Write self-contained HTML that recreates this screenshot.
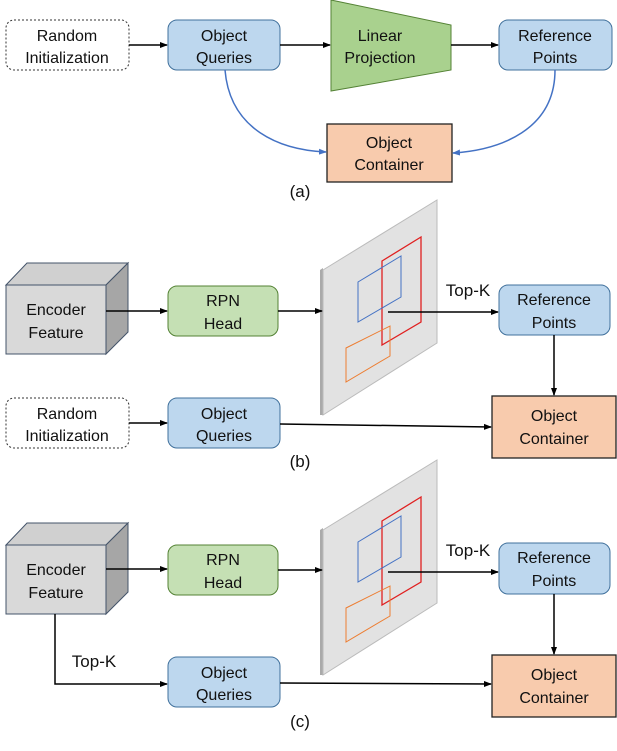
<!DOCTYPE html>
<html><head><style>body{margin:0;background:#fff}svg{display:block}text{font-family:"Liberation Sans",sans-serif;font-size:16px;fill:#111;text-anchor:middle}</style></head><body>
<svg width="617" height="751" viewBox="0 0 617 751" xmlns="http://www.w3.org/2000/svg">
<defs>
<marker id="a" markerWidth="8" markerHeight="8" refX="7" refY="4" orient="auto" markerUnits="userSpaceOnUse"><path d="M0,1 L8,4 L0,7Z" fill="#000"/></marker>
<marker id="ab" markerWidth="8" markerHeight="8" refX="7" refY="4" orient="auto" markerUnits="userSpaceOnUse"><path d="M0,1 L8,4 L0,7Z" fill="#4472c4"/></marker>
<g id="plate">
<polygon points="320,530 323,528 323,675 320,675" fill="#aaa"/>
<polygon points="323,530 437,460 437,603 323,675" fill="#e2e2e2" stroke="#bbb"/>
<polygon points="382,521 421,497 421,582 382,605" fill="none" stroke="#e02020" stroke-width="1.3"/>
<polygon points="358,542 401,516 401,557 358,582" fill="none" stroke="#4472c4" stroke-width="1"/>
<polygon points="346,608 390,586 390,616 346,642" fill="none" stroke="#ed7d31" stroke-width="1"/>
<line x1="388" y1="572" x2="498" y2="572" stroke="#000" stroke-width="1.5" marker-end="url(#a)"/>
<text x="468" y="556" style="font-size:17px">Top-K</text>
</g>
<g id="cube">
<polygon points="6,545 27,523 128,523 106,545" fill="#d0d0d0" stroke="#44546a"/>
<polygon points="106,545 128,523 128,592 106,614" fill="#a6a6a6" stroke="#44546a"/>
<rect x="6" y="545" width="100" height="69" fill="#d9d9d9" stroke="#44546a"/>
<text x="56" y="575">Encoder</text><text x="56" y="598">Feature</text>
</g>
</defs>
<!-- (a) -->
<rect x="6" y="20" width="123" height="50" rx="8" fill="#fff" stroke="#333" stroke-dasharray="2,2"/>
<text x="67" y="41">Random</text><text x="67" y="63">Initialization</text>
<rect x="168" y="20" width="112" height="50" rx="9" fill="#bdd7ee" stroke="#41719c"/>
<text x="224" y="41">Object</text><text x="224" y="63">Queries</text>
<polygon points="331,0 451,25 451,70 331,91" fill="#a9d18e" stroke="#548235"/>
<text x="380" y="41">Linear</text><text x="380" y="63">Projection</text>
<rect x="499" y="20" width="113" height="50" rx="9" fill="#bdd7ee" stroke="#41719c"/>
<text x="555" y="41">Reference</text><text x="555" y="63">Points</text>
<rect x="327" y="124" width="125" height="58" fill="#f8cbad" stroke="#222" stroke-width="1.3"/>
<text x="389" y="148">Object</text><text x="389" y="170">Container</text>
<line x1="129" y1="45" x2="167" y2="45" stroke="#000" stroke-width="1.5" marker-end="url(#a)"/>
<line x1="280" y1="45" x2="330" y2="45" stroke="#000" stroke-width="1.5" marker-end="url(#a)"/>
<line x1="451" y1="45" x2="498" y2="45" stroke="#000" stroke-width="1.5" marker-end="url(#a)"/>
<path d="M225,70 C230,130 280,150 326,152" fill="none" stroke="#4472c4" stroke-width="1.5" marker-end="url(#ab)"/>
<path d="M555,70 C555,130 500,150 453,153" fill="none" stroke="#4472c4" stroke-width="1.5" marker-end="url(#ab)"/>
<text x="300" y="197" style="font-size:17px">(a)</text>
<!-- (b) -->
<g transform="translate(0,-260)"><use href="#plate"/><use href="#cube"/></g>
<rect x="168" y="286" width="110" height="50" rx="9" fill="#c5e0b4" stroke="#548235"/>
<text x="223" y="306">RPN</text><text x="223" y="329">Head</text>
<line x1="106" y1="311" x2="167" y2="311" stroke="#000" stroke-width="1.5" marker-end="url(#a)"/>
<line x1="278" y1="311" x2="322" y2="311" stroke="#000" stroke-width="1.5" marker-end="url(#a)"/>
<rect x="499" y="285" width="111" height="50" rx="9" fill="#bdd7ee" stroke="#41719c"/>
<text x="554" y="305">Reference</text><text x="554" y="328">Points</text>
<rect x="492" y="396" width="124" height="62" fill="#f8cbad" stroke="#222" stroke-width="1.3"/>
<text x="554" y="421">Object</text><text x="554" y="444">Container</text>
<line x1="554" y1="335" x2="554" y2="395" stroke="#000" stroke-width="1.5" marker-end="url(#a)"/>
<rect x="6" y="398" width="123" height="50" rx="8" fill="#fff" stroke="#333" stroke-dasharray="2,2"/>
<text x="67" y="419">Random</text><text x="67" y="441">Initialization</text>
<rect x="168" y="398" width="112" height="50" rx="9" fill="#bdd7ee" stroke="#41719c"/>
<text x="224" y="419">Object</text><text x="224" y="441">Queries</text>
<line x1="129" y1="423" x2="167" y2="423" stroke="#000" stroke-width="1.5" marker-end="url(#a)"/>
<line x1="280" y1="424" x2="491" y2="427" stroke="#000" stroke-width="1.5" marker-end="url(#a)"/>
<text x="300" y="467" style="font-size:17px">(b)</text>
<!-- (c) -->
<use href="#plate"/><use href="#cube"/>
<rect x="168" y="545" width="110" height="50" rx="9" fill="#c5e0b4" stroke="#548235"/>
<text x="223" y="565">RPN</text><text x="223" y="588">Head</text>
<line x1="106" y1="569" x2="167" y2="569" stroke="#000" stroke-width="1.5" marker-end="url(#a)"/>
<line x1="278" y1="570" x2="322" y2="570" stroke="#000" stroke-width="1.5" marker-end="url(#a)"/>
<rect x="499" y="543" width="111" height="51" rx="9" fill="#bdd7ee" stroke="#41719c"/>
<text x="554" y="563">Reference</text><text x="554" y="586">Points</text>
<rect x="492" y="655" width="124" height="62" fill="#f8cbad" stroke="#222" stroke-width="1.3"/>
<text x="554" y="680">Object</text><text x="554" y="703">Container</text>
<line x1="554" y1="594" x2="554" y2="654" stroke="#000" stroke-width="1.5" marker-end="url(#a)"/>
<polyline points="55,614 55,684 167,684" fill="none" stroke="#000" stroke-width="1.5" marker-end="url(#a)"/>
<text x="94" y="667" style="font-size:17px">Top-K</text>
<rect x="168" y="657" width="112" height="50" rx="9" fill="#bdd7ee" stroke="#41719c"/>
<text x="224" y="678">Object</text><text x="224" y="700">Queries</text>
<line x1="280" y1="683" x2="491" y2="684" stroke="#000" stroke-width="1.5" marker-end="url(#a)"/>
<text x="300" y="727" style="font-size:17px">(c)</text>
</svg>
</body></html>
